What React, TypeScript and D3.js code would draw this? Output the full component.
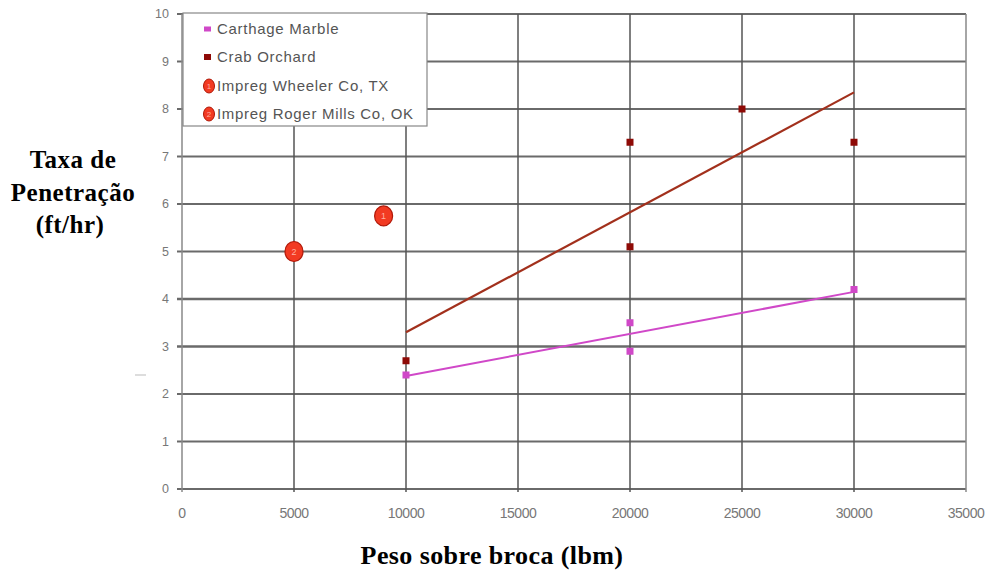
import React from "react";
import * as d3 from "d3";

const xTicks = [0, 5000, 10000, 15000, 20000, 25000, 30000, 35000];
const yTicks = [0, 1, 2, 3, 4, 5, 6, 7, 8, 9, 10];

const carthageX = [10000, 20000, 20000, 30000];
const carthageY = [2.4, 3.5, 2.9, 4.2];
const carthageTrendX = [10000, 30000];
const carthageTrendY = [2.38, 4.15];

const crabX = [10000, 20000, 20000, 25000, 30000];
const crabY = [2.7, 7.3, 5.1, 8.0, 7.3];
const crabTrendX = [10000, 30000];
const crabTrendY = [3.3, 8.35];

const impregX = [9000, 5000];
const impregY = [5.75, 5.0];
const impregLabels = ["1", "2"];

const legendLabels = ["Carthage Marble", "Crab Orchard", "Impreg Wheeler Co, TX", "Impreg Roger Mills Co, OK"];

const W = 993, H = 574;
const M = { left: 182, right: 966, top: 14, bottom: 489 };

export default function App() {
  const x = d3.scaleLinear().domain([0, 35000]).range([M.left, M.right]);
  const y = d3.scaleLinear().domain([0, 10]).range([M.bottom, M.top]);
  const line = d3.line<[number, number]>().x(d => x(d[0])).y(d => y(d[1]));
  const carthageTrend = carthageTrendX.map((v, i) => [v, carthageTrendY[i]] as [number, number]);
  const crabTrend = crabTrendX.map((v, i) => [v, crabTrendY[i]] as [number, number]);
  const magenta = "#d048c8";
  const darkRed = "#8e0a06";
  const red = "#f23a22";
  const axisFont = "Arial, 'Liberation Sans', sans-serif";
  const serif = "'Liberation Serif', 'Times New Roman', serif";
  const legendRowsY = [29, 57, 86, 114];

  return (
    <svg width={W} height={H} style={{ position: "absolute", left: 0, top: 0, background: "#fff" }}>
      <rect x={0} y={0} width={W} height={H} fill="#fff" />
      {/* horizontal gridlines */}
      {yTicks.map(t => (
        <g key={"h" + t}>
          <line x1={M.left - 5} x2={M.right} y1={y(t)} y2={y(t)} stroke="#6a6a6a" strokeWidth={t === 3 || t === 4 ? 2.6 : 2} />
          <text x={M.left - 13} y={y(t)} dy="0.35em" textAnchor="end" fontSize={12.5} fill="#777" fontFamily={axisFont}>{t}</text>
        </g>
      ))}
      {/* vertical gridlines */}
      {xTicks.map(t => (
        <g key={"v" + t}>
          <line x1={x(t)} x2={x(t)} y1={M.top} y2={M.bottom + 3} stroke={t === 0 || t === 35000 ? "#888" : "#555"} strokeWidth={1.5} />
          <text x={x(t)} y={M.bottom + 29} textAnchor="middle" fontSize={14} fill="#777" fontFamily={axisFont} letterSpacing={-0.5}>{t}</text>
        </g>
      ))}
      {/* trend lines */}
      <path d={line(crabTrend) || ""} fill="none" stroke="#a2301c" strokeWidth={2.2} />
      <path d={line(carthageTrend) || ""} fill="none" stroke={magenta} strokeWidth={2} />
      {/* points */}
      {carthageX.map((v, i) => (
        <rect key={"c" + i} x={x(v) - 3.5} y={y(carthageY[i]) - 3.5} width={7} height={7} fill={magenta} />
      ))}
      {crabX.map((v, i) => (
        <rect key={"o" + i} x={x(v) - 3.5} y={y(crabY[i]) - 3.5} width={7} height={7} fill={darkRed} />
      ))}
      {impregX.map((v, i) => (
        <g key={"i" + i}>
          <ellipse cx={x(v)} cy={y(impregY[i])} rx={9} ry={10} fill={red} stroke="#b01808" strokeWidth={1.2} />
          <text x={x(v)} y={y(impregY[i])} dy="0.35em" textAnchor="middle" fontSize={9} fill="#ffb0a0" fontFamily={axisFont}>{impregLabels[i]}</text>
        </g>
      ))}
      {/* legend */}
      <rect x={183} y={13} width={244} height={113} fill="#fff" stroke="#888" strokeWidth={1.2} />
      {legendLabels.map((lab, i) => (
        <g key={"l" + i}>
          {i === 0 && <rect x={204} y={legendRowsY[i] - 2.5} width={7} height={5} fill={magenta} />}
          {i === 1 && <rect x={204} y={legendRowsY[i] - 3} width={7} height={6} fill={darkRed} />}
          {i >= 2 && (
            <g>
              <ellipse cx={209} cy={legendRowsY[i]} rx={5.5} ry={7} fill={red} stroke="#b01808" strokeWidth={1} />
              <text x={209} y={legendRowsY[i]} dy="0.35em" textAnchor="middle" fontSize={8} fill="#ffb0a0" fontFamily={axisFont}>{impregLabels[i - 2]}</text>
            </g>
          )}
          <text x={217} y={legendRowsY[i]} dy="0.35em" fontSize={15} fill="#555" fontFamily={axisFont} letterSpacing={0.7}>{lab}</text>
        </g>
      ))}
      {/* axis titles */}
      <text textAnchor="middle" fontFamily={serif} fontWeight="bold" fontSize={25} fill="#000" letterSpacing={0.5}>
        <tspan x={73} y={168}>Taxa de</tspan>
        <tspan x={73} y={201}>Penetração</tspan>
        <tspan x={70} y={233}>(ft/hr)</tspan>
      </text>
      <text x={492} y={564} textAnchor="middle" fontFamily={serif} fontWeight="bold" fontSize={26} fill="#000" letterSpacing={0.4}>Peso sobre broca (lbm)</text>
      <line x1={135} x2={146} y1={375} y2={375} stroke="#bbb" strokeWidth={1} />
    </svg>
  );
}
